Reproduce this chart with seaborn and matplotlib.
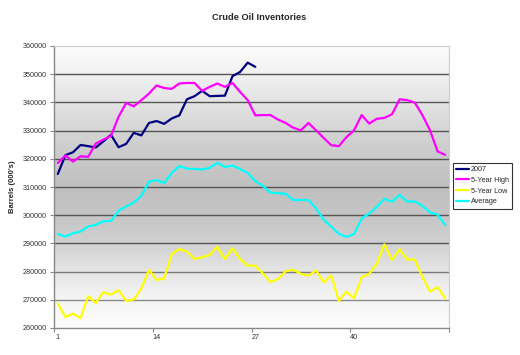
import numpy as np
import pandas as pd
import matplotlib
matplotlib.use("Agg")
import matplotlib.pyplot as plt
import seaborn as sns
from matplotlib.colors import LinearSegmentedColormap
from matplotlib.lines import Line2D

weeks = list(range(1, 53))

y2007 = [314600, 321300, 322300, 324900, 324500, 324000, 326200, 328500, 324100, 325300,
         329200, 328300, 332700, 333400, 332400, 334300, 335400, 341100, 342200, 344100,
         342200, 342300, 342400, 349300, 350800, 354100, 352600]

high5 = [318500, 321200, 319000, 320900, 320700, 325400, 326800, 328100, 334900, 339800,
         338600, 340800, 343100, 346000, 345100, 344800, 346700, 346900, 346900, 344100,
         345500, 346700, 345500, 346900, 343700, 340800, 335400, 335500, 335500, 333900,
         332700, 331000, 330100, 332700, 330100, 327400, 324800, 324500, 327700, 330100,
         335500, 332500, 334200, 334500, 335800, 341100, 340800, 339900, 335500, 330100,
         322600, 321400]

low5 = [268700, 263900, 265100, 263500, 271300, 268900, 272700, 271800, 273400, 269600,
        270100, 274000, 280600, 277000, 277600, 286200, 288000, 287100, 284500, 285100,
        285900, 288800, 284400, 288300, 284400, 282100, 282100, 279300, 276300, 277400,
        280100, 280700, 279200, 278600, 280400, 276200, 278600, 269600, 272900, 270500,
        278100, 279200, 282800, 289700, 284100, 287900, 284300, 284300, 278100, 272900,
        274500, 270500]

avg = [293400, 292400, 293600, 294200, 296000, 296600, 297800, 298000, 301600, 303100,
       304500, 306900, 311900, 312400, 311400, 315000, 317400, 316500, 316400, 316200,
       316800, 318600, 317100, 317600, 316400, 315000, 312100, 310400, 308000, 307800,
       307600, 305400, 305400, 305400, 302400, 298500, 295900, 293400, 292300, 293300,
       298800, 300600, 303000, 305800, 304800, 307200, 304800, 304900, 303300, 301000,
       300200, 296500]

series_names = ["2007", "5-Year High", "5-Year Low", "Average"]
series_vals = [y2007, high5, low5, avg]
colors = {"2007": "#000080", "5-Year High": "#FF00FF", "5-Year Low": "#FFFF00", "Average": "#00FFFF"}

yticks = list(range(260000, 360001, 10000))
xtick_labels = [1, 14, 27, 40]

rows = []
for name, vals in zip(series_names, series_vals):
    for w, v in zip(weeks, vals):
        rows.append({"Week": w, "Barrels": v, "Series": name})
df = pd.DataFrame(rows)

sns.set_theme(style="white")
plt.rcParams['font.family'] = ['Liberation Sans', 'DejaVu Sans']

fig = plt.figure(figsize=(5.2, 3.55), dpi=100)
ax = fig.add_axes([54/520, 1-328/355, (449-54)/520, (328-46)/355])

# gradient background
grad_vals = [360000, 350000, 340000, 330000, 320000, 310000, 300000, 290000, 280000, 270000, 260000]
grad_cols = ["#fdfdfd", "#f1f1f1", "#e3e3e3", "#d5d5d5", "#c9c9c9", "#c0c0c0", "#c5c5c5",
             "#d1d1d1", "#e5e5e5", "#f5f5f5", "#fdfdfd"]
pos = [(v - 260000) / 100000 for v in grad_vals]
pairs = sorted(zip(pos, grad_cols))
cmap = LinearSegmentedColormap.from_list("bg", pairs)
g = np.linspace(0, 1, 256).reshape(-1, 1)
ax.imshow(g, cmap=cmap, aspect="auto", origin="lower",
          extent=[0.5, 52.5, 260000, 360000], zorder=0, vmin=0, vmax=1)

grid_cols = {270000: "#8a8a8a", 280000: "#777777"}
for yv in yticks[1:-1]:
    ax.axhline(yv, color=grid_cols.get(yv, "#555555"), lw=1.0, zorder=1)

sns.lineplot(data=df, x="Week", y="Barrels", hue="Series", palette=colors,
             hue_order=series_names, linewidth=1.6, ax=ax, legend=False, zorder=3,
             estimator=None, sort=False)

ax.set_xlim(0.5, 52.5)
ax.set_ylim(260000, 360000)
ax.set_yticks(yticks)
ax.set_yticklabels([str(v) for v in yticks], fontsize=5.2, color="#333333")
ax.set_xticks(xtick_labels)
ax.set_xticklabels([str(v) for v in xtick_labels], fontsize=5.2, color="#333333")
ax.set_xticks([0.5, 13.5, 26.5, 39.5, 52.5], minor=True)
ax.tick_params(axis="x", which="major", length=0, pad=4)
ax.tick_params(axis="x", which="minor", length=3, width=0.8, color="#888888", direction="out", bottom=True)
ax.tick_params(axis="y", which="major", length=3, width=0.8, color="#888888", direction="out", left=True, pad=2)
ax.set_xlabel("")
ax.set_ylabel("Barrels (000's)", fontsize=5.5, fontweight="bold", labelpad=5)
for s in ["left", "bottom"]:
    ax.spines[s].set_color("#888888")
    ax.spines[s].set_linewidth(1.0)
for s in ["top", "right"]:
    ax.spines[s].set_color("#cccccc")
    ax.spines[s].set_linewidth(0.8)

fig.text(259/520, 1-17/355, "Crude Oil Inventories", ha="center", va="center",
         fontsize=6.7, fontweight="bold")

handles = [Line2D([0], [0], color=colors[n], lw=1.6) for n in series_names]
leg = fig.legend(handles, series_names, loc="upper left",
                 bbox_to_anchor=(453/520, 1-163/355), fontsize=5.2, frameon=True,
                 fancybox=False, handlelength=1.8, handletextpad=0.2, borderpad=0.45,
                 labelspacing=0.5, borderaxespad=0)
leg.get_frame().set_edgecolor("#000000")
leg.get_frame().set_linewidth(0.8)

fig.savefig("out.png", dpi=100)
